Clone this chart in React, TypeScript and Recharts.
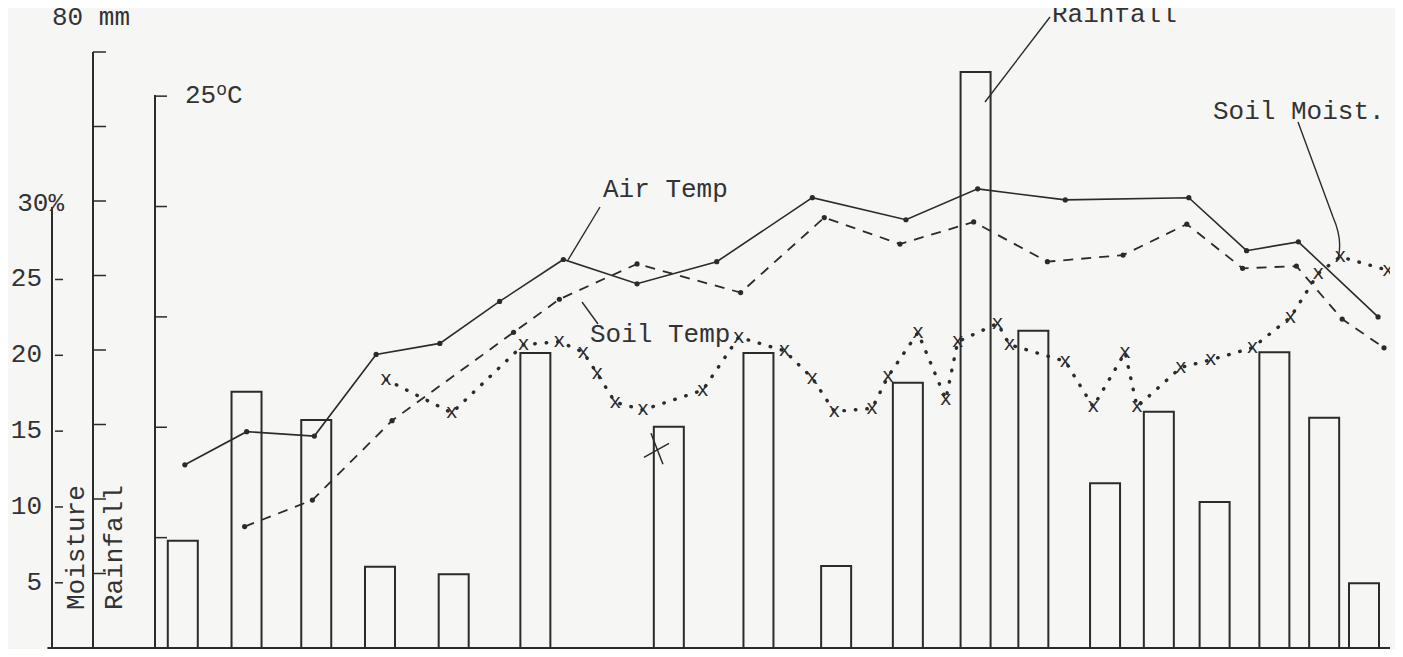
import { Bar, ComposedChart, Line, ReferenceLine, XAxis, YAxis } from 'recharts';

// typewriter-ish look of the original sheet
const INK = '#2b2b2b';
const PAPER = '#f6f6f4';
const FONT = "'Courier New', 'Liberation Mono', monospace";
const FONT_SIZE = 26;
const BAR_W = 30;

// rainfall (mm), one bar per reading day
const rainDays = [1.4, 4.6, 8.1, 11.3, 15.0, 19.1, 25.8, 30.3, 34.2, 37.8, 41.2, 44.1, 47.7, 50.4, 53.2, 56.2, 58.7, 60.7];
const rainfallMm = [14.4, 34.4, 30.6, 10.9, 9.9, 39.6, 29.7, 39.6, 11.0, 35.6, 77.3, 42.6, 22.1, 31.7, 19.6, 39.7, 30.9, 8.7];

// air temperature (deg C)
const airDays = [1.5, 4.6, 8.0, 11.1, 14.3, 17.3, 20.5, 24.2, 28.2, 33.0, 37.7, 41.3, 45.7, 51.9, 54.8, 57.4, 61.4];
const airTemp = [8.3, 9.8, 9.6, 13.3, 13.8, 15.7, 17.6, 16.5, 17.5, 20.4, 19.4, 20.8, 20.3, 20.4, 18.0, 18.4, 15.0];

// soil temperature (deg C)
const soilDays = [4.5, 7.9, 11.9, 18.0, 20.3, 24.2, 29.4, 33.6, 37.4, 41.1, 44.8, 48.6, 51.8, 54.6, 57.3, 59.6, 61.7];
const soilTemp = [5.5, 6.7, 10.3, 14.3, 15.8, 17.4, 16.1, 19.5, 18.3, 19.3, 17.5, 17.8, 19.2, 17.2, 17.3, 14.9, 13.6];

// soil moisture (%)
const moistDays = [11.6, 14.9, 18.5, 20.3, 21.5, 22.2, 23.1, 24.5, 27.5, 29.3, 31.6, 33.0, 34.1, 36.0, 36.8, 38.3, 39.7, 40.3, 42.3, 42.9, 45.7, 47.1, 48.7, 49.3, 51.5, 53.0, 55.1, 57.0, 58.4, 59.5, 61.9];
const soilMoisture = [18.4, 16.2, 20.7, 20.9, 20.2, 18.8, 16.9, 16.4, 17.7, 21.2, 20.3, 18.5, 16.3, 16.5, 18.6, 21.5, 17.1, 20.9, 22.1, 20.7, 19.6, 16.6, 20.2, 16.6, 19.2, 19.7, 20.5, 22.5, 25.4, 26.5, 25.6];

// the crossed-out moisture reading
const struckDays = [25.2];
const struckMoisture = [13.8];

const moistTicks = [5, 10, 15, 20, 25, 30];
const rainTicks = [10, 20, 30, 40, 50, 60, 70, 80];
const tempTicks = [5, 10, 15, 20, 25];

const rainData = rainDays.map((day, i) => ({ day, rain: rainfallMm[i] }));
const airData = airDays.map((day, i) => ({ day, temp: airTemp[i] }));
const soilData = soilDays.map((day, i) => ({ day, temp: soilTemp[i] }));
const moistData = moistDays.map((day, i) => ({ day, moist: soilMoisture[i] }));
const struckData = struckDays.map((day, i) => ({ day, moist: struckMoisture[i] }));

// axis ids: the left axes are stacked by id, the first one sits against the plot
const TEMP = 'a-temp';
const RAIN = 'b-rain';
const MOIST = 'c-moist';

const textStyle = { fontFamily: FONT, fontSize: FONT_SIZE, fill: '#333' };

function MoistTick({ x, y, payload }: any) {
  const v = payload.value;
  return (
    <g>
      {v !== 30 && <line x1={x + 3} x2={x + 11} y1={y} y2={y} stroke={INK} strokeWidth={1.5} />}
      <text
        x={v === 30 ? x + 12 : x - 10}
        y={y}
        textAnchor="end"
        dominantBaseline="central"
        style={textStyle}
      >
        {v === 30 ? '30%' : v}
      </text>
    </g>
  );
}

function RainTick({ x, y }: any) {
  return <line x1={x} x2={x + 13} y1={y} y2={y} stroke={INK} strokeWidth={1.5} />;
}

function TempTick({ x, y, payload }: any) {
  return (
    <g>
      <line x1={x} x2={x + 12} y1={y} y2={y} stroke={INK} strokeWidth={1.5} />
      {payload.value === 25 && (
        <text x={x + 30} y={y} dominantBaseline="central" style={textStyle}>
          25
          <tspan fontSize={18} dy={-6}>o</tspan>
          <tspan dy={6}>C</tspan>
        </text>
      )}
    </g>
  );
}

// open rectangle of fixed width, centred on the bar's slot
function RainBar({ x, y, width, height }: any) {
  const cx = x + width / 2;
  return (
    <path
      d={`M${cx - BAR_W / 2} ${y + height} V${y} H${cx + BAR_W / 2} V${y + height}`}
      fill="none"
      stroke={INK}
      strokeWidth={2}
    />
  );
}

function TypedX({ cx, cy, index }: any) {
  return (
    <text
      key={index}
      x={cx}
      y={cy}
      textAnchor="middle"
      dominantBaseline="central"
      style={{ fontFamily: FONT, fontSize: 20, fill: INK }}
    >
      x
    </text>
  );
}

function BigX({ cx, cy, index }: any) {
  return (
    <g key={index} stroke={INK} strokeWidth={1.5}>
      <line x1={cx - 6} y1={cy - 16} x2={cx + 6} y2={cy + 15} />
      <line x1={cx - 13} y1={cy + 8} x2={cx + 12} y2={cy - 6} />
    </g>
  );
}

export default function App() {
  return (
    <div style={{ margin: -8, padding: 8, background: PAPER, width: 1403, height: 657, boxSizing: 'border-box' }}>
      <div style={{ position: 'relative', width: 1395, height: 649 }}>
        <ComposedChart
          width={1395}
          height={649}
          data={rainData}
          margin={{ top: 44, right: 13, bottom: 9, left: 0 }}
        >
          <XAxis type="number" dataKey="day" domain={[0, 62]} allowDataOverflow hide />
          <YAxis
            yAxisId={TEMP}
            orientation="left"
            type="number"
            width={62}
            domain={[0, 27]}
            allowDataOverflow
            ticks={tempTicks}
            interval={0}
            tickSize={0}
            tickMargin={0}
            tickLine={false}
            axisLine={{ stroke: INK, strokeWidth: 2, strokeDasharray: '0 43 2000' }}
            tick={TempTick}
          />
          <YAxis
            yAxisId={RAIN}
            orientation="left"
            type="number"
            width={41}
            domain={[0, 80]}
            allowDataOverflow
            ticks={rainTicks}
            interval={0}
            tickSize={0}
            tickMargin={0}
            tickLine={false}
            axisLine={{ stroke: INK, strokeWidth: 2 }}
            tick={RainTick}
          />
          <YAxis
            yAxisId={MOIST}
            orientation="left"
            type="number"
            width={44}
            domain={[0.7, 40]}
            allowDataOverflow
            ticks={moistTicks}
            interval={0}
            tickSize={0}
            tickMargin={0}
            tickLine={false}
            axisLine={{ stroke: INK, strokeWidth: 2, strokeDasharray: '0 155 2000' }}
            tick={MoistTick}
          />

          <ReferenceLine
            yAxisId={RAIN}
            segment={[{ x: -5.4, y: 0 }, { x: 62, y: 0 }]}
            stroke={INK}
            strokeWidth={2}
            ifOverflow="visible"
          />

          <Bar
            yAxisId={RAIN}
            dataKey="rain"
            barSize={BAR_W}
            shape={RainBar}
            isAnimationActive={false}
          />
          <Line
            yAxisId={TEMP}
            data={airData}
            dataKey="temp"
            stroke={INK}
            strokeWidth={1.6}
            dot={{ r: 2.6, fill: INK, stroke: 'none' }}
            isAnimationActive={false}
          />
          <Line
            yAxisId={TEMP}
            data={soilData}
            dataKey="temp"
            stroke={INK}
            strokeWidth={1.8}
            strokeDasharray="10 8"
            dot={{ r: 2.6, fill: INK, stroke: 'none', strokeDasharray: '' }}
            isAnimationActive={false}
          />
          <Line
            yAxisId={MOIST}
            data={moistData}
            dataKey="moist"
            stroke={INK}
            strokeWidth={3.4}
            strokeLinecap="round"
            strokeDasharray="0.5 11"
            dot={TypedX}
            isAnimationActive={false}
          />
          <Line
            yAxisId={MOIST}
            data={struckData}
            dataKey="moist"
            stroke="none"
            dot={BigX}
            isAnimationActive={false}
          />
        </ComposedChart>

        {/* typed annotations; this layer starts at the very top of the page */}
        <svg
          width={1395}
          height={657}
          style={{ position: 'absolute', left: 0, top: -8, pointerEvents: 'none' }}
        >
          <g transform="translate(0 8)">
            <g style={textStyle}>
              <text x={44} y={10} dominantBaseline="central">80 mm</text>
              <text x={1044} y={7} dominantBaseline="central">Rainfall</text>
              <text x={595} y={182} dominantBaseline="central">Air Temp</text>
              <text x={582} y={327} dominantBaseline="central">Soil Temp</text>
              <text x={1205} y={104} dominantBaseline="central">Soil Moist.</text>
              <text x={69} y={602} dominantBaseline="central" transform="rotate(-90 69 602)">Moisture</text>
              <text x={107} y={602} dominantBaseline="central" transform="rotate(-90 107 602)">Rainfall</text>
            </g>
            <g stroke={INK} strokeWidth={1.4} fill="none">
              <line x1={1042} y1={9} x2={977} y2={94} />
              <line x1={592} y1={199} x2={560} y2={252} />
              <line x1={574} y1={294} x2={590} y2={316} />
              <path d="M1290 114 L1325 209 Q1335 232 1330 250" />
            </g>
          </g>
        </svg>
      </div>
    </div>
  );
}
